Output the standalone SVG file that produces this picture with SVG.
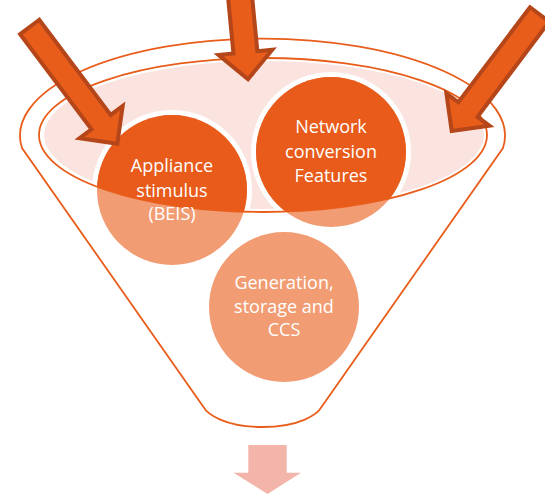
<svg xmlns="http://www.w3.org/2000/svg" width="545" height="496" viewBox="0 0 545 496">
<defs>
<style>
.ring{fill:#ffffff}
.light{fill:#F19C73}
.dark{fill:#E85B1A}
.lbl{font-family:"Open Sans","Liberation Sans",sans-serif;font-size:18px;fill:#ffffff;text-anchor:middle}
.arrow{fill:#E95D1B;stroke:#B4461A;stroke-width:4;stroke-linejoin:miter}
.edge{fill:none;stroke:#E95D1B;stroke-width:1.8}
</style>
<clipPath id="top"><ellipse cx="263" cy="135" rx="224" ry="77"/></clipPath>
<path id="bigArrow" d="M0,0 L-27,-27 L-12,-27 L-12,-146 L12,-146 L12,-27 L27,-27 Z"/>
</defs>
<rect width="545" height="496" fill="#ffffff"/>
<g id="funnel">
<path d="M22,148 A242.5,97 0 1 1 503,148 L321.7,406.7 C318,414 300,427 262.5,427 C225,427 207,414 203.3,406.7 Z" fill="#ffffff" stroke="#E95D1B" stroke-width="1.8"/>
<ellipse cx="264" cy="135" rx="221" ry="75" fill="#FBE4E0" stroke="#ffffff" stroke-width="2"/>
</g>
<g id="node-appliance">
<circle class="ring" cx="172" cy="190" r="80"/>
<circle class="light" cx="172" cy="190" r="75"/>
<circle class="dark" cx="172" cy="190" r="75" clip-path="url(#top)"/>
</g>
<g id="node-network">
<circle class="ring" cx="331" cy="152" r="80"/>
<circle class="light" cx="331" cy="152" r="75"/>
<circle class="dark" cx="331" cy="152" r="75" clip-path="url(#top)"/>
</g>
<g id="node-generation">
<circle class="light" cx="284" cy="307" r="75"/>
</g>
<g id="funnel-rim">
<ellipse class="edge" cx="263" cy="135" rx="224" ry="77"/>
</g>
<g id="labels">
<text class="lbl" x="172" y="172.3">Appliance</text>
<text class="lbl" x="172" y="196.5">stimulus</text>
<text class="lbl" x="172" y="219.5">(BEIS)</text>
<text class="lbl" x="331" y="133.3">Network</text>
<text class="lbl" x="331" y="157.5">conversion</text>
<text class="lbl" x="331" y="181.7">Features</text>
<text class="lbl" x="284" y="289">Generation,</text>
<text class="lbl" x="284" y="312.7">storage and</text>
<text class="lbl" x="284" y="336">CCS</text>
</g>
<g id="arrows">
<use href="#bigArrow" class="arrow" transform="translate(117.3,143.7) rotate(-36.87)"/>
<use href="#bigArrow" class="arrow" transform="translate(248,79.2) rotate(-5.5)"/>
<use href="#bigArrow" class="arrow" transform="translate(451.7,131.1) rotate(37)"/>
<path d="M248.3,445 H286.7 V472.7 H301 L267.5,494 L233.5,472.7 H248.3 Z" fill="#F3B5AA"/>
</g>
</svg>
